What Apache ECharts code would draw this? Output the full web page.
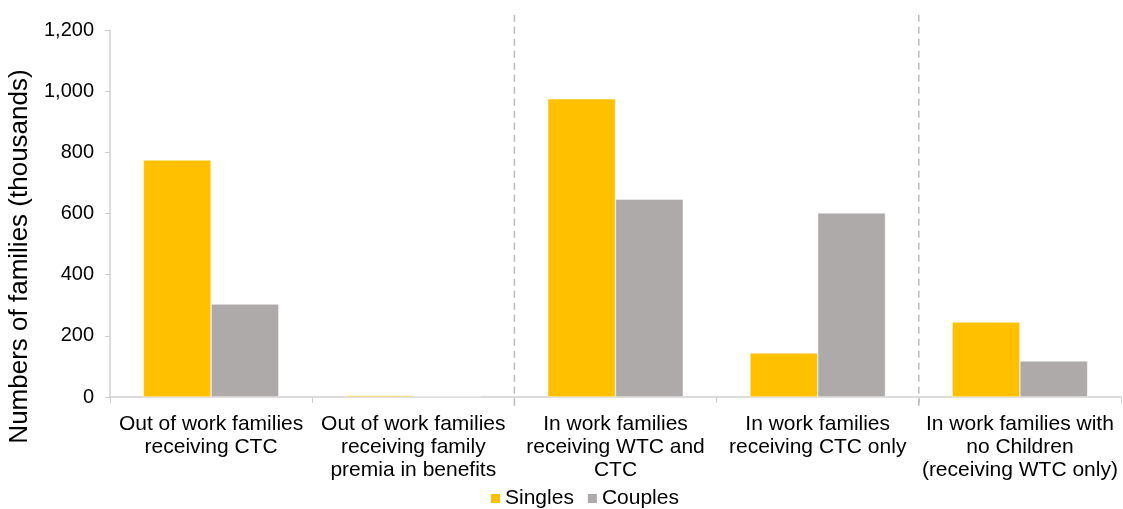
<!DOCTYPE html>
<html>
<head>
<meta charset="utf-8">
<script src="https://cdn.jsdelivr.net/npm/echarts@6/dist/echarts.min.js"></script>
<style>
  html, body { margin: 0; padding: 0; background: #fff; }
  #chart { width: 1123px; height: 509px; }
</style>
</head>
<body>
<div id="chart"></div>
<script>
// Family groups (x-axis categories)
const categories = [
  'Out of work families\nreceiving CTC',
  'Out of work families\nreceiving family\npremia in benefits',
  'In work families\nreceiving WTC and\nCTC',
  'In work families\nreceiving CTC only',
  'In work families with\nno Children\n(receiving WTC only)'
];

// Numbers of families, thousands
const singles = [775, 5, 975, 144, 245];
const couples = [304, 3, 647, 602, 118];

// Y-axis ticks
const yTicks = [0, 200, 400, 600, 800, 1000, 1200];

// Dividers between groups (category-boundary index)
const dividers = [2, 4];

const FONT = '"Liberation Sans", Arial, sans-serif';
const chart = echarts.init(document.getElementById('chart'));

chart.setOption({
  animation: false,
  textStyle: { fontFamily: FONT },
  grid: { left: 110, right: 2, top: 30, bottom: 112, containLabel: false, outerBoundsMode: 'none' },
  legend: {
    top: 483,
    left: 484,
    itemWidth: 11,
    itemHeight: 11,
    itemGap: 12,
    icon: 'rect',
    textStyle: { fontSize: 21, color: '#000', fontFamily: FONT, padding: [0, 0, 0, -1] },
    data: ['Singles', 'Couples']
  },
  xAxis: [{
    type: 'category',
    data: categories,
    axisLine: { lineStyle: { color: '#d0d0d0', width: 1.5 } },
    axisTick: { show: true, length: 6, lineStyle: { color: '#d0d0d0' } },
    axisLabel: {
      interval: 0,
      color: '#000',
      fontSize: 21,
      lineHeight: 23,
      margin: 16,
      fontFamily: FONT
    }
  }, {
    // hidden linear axis spanning the category boundaries, used to place dividers
    type: 'value',
    min: 0,
    max: categories.length,
    show: false
  }],
  yAxis: {
    type: 'value',
    min: yTicks[0],
    max: yTicks[yTicks.length - 1],
    interval: 200,
    name: 'Numbers of families (thousands)',
    nameLocation: 'middle',
    nameGap: 75,
    nameTextStyle: { fontSize: 26, color: '#000', fontFamily: FONT, padding: [0, 86, 0, 0] },
    axisLine: { show: true, lineStyle: { color: '#d0d0d0', width: 1.5 } },
    axisTick: { show: true, length: 5, lineStyle: { color: '#d0d0d0' } },
    splitLine: { show: false },
    axisLabel: {
      color: '#000',
      fontSize: 20,
      margin: 16,
      fontFamily: FONT,
      formatter: v => v.toLocaleString('en-US')
    }
  },
  series: [{
    name: 'Singles',
    type: 'bar',
    data: singles,
    barGap: '0%',
    barCategoryGap: '33%',
    itemStyle: { color: '#FFC000', borderColor: '#fff', borderWidth: 0.5 }
  }, {
    name: 'Couples',
    type: 'bar',
    data: couples,
    barGap: '0%',
    barCategoryGap: '33%',
    itemStyle: { color: '#AEAAAA', borderColor: '#fff', borderWidth: 0.5 }
  }, {
    // dashed separators between the out-of-work, with-children and no-children groups
    name: 'dividers',
    type: 'custom',
    xAxisIndex: 1,
    yAxisIndex: 0,
    silent: true,
    clip: false,
    data: dividers.map(d => [d]),
    renderItem: (params, api) => {
      const top = api.coord([api.value(0), 1250]);
      const bottom = api.coord([api.value(0), -42]);
      return {
        type: 'line',
        shape: { x1: top[0], y1: top[1], x2: bottom[0], y2: bottom[1] },
        style: { stroke: '#bcbcbc', lineWidth: 1.5, lineDash: [7, 5] }
      };
    }
  }]
});
</script>
</body>
</html>
